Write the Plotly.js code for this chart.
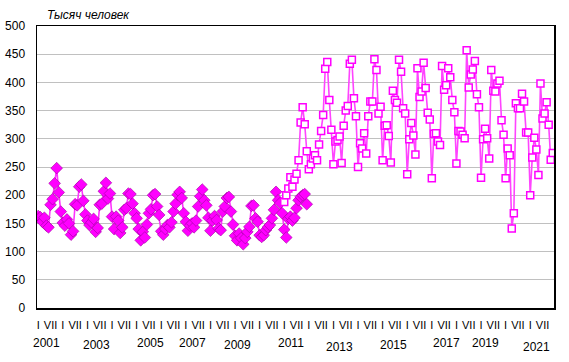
<!DOCTYPE html>
<html>
<head>
<meta charset="utf-8">
<script src="https://cdn.plot.ly/plotly-3.0.1.min.js"></script>
<style>html,body{margin:0;padding:0;background:#fff}#chart{width:569px;height:362px}</style>
</head>
<body>
<div id="chart"></div>
<script>
// Monthly values, thousand persons
// Old methodology (diamonds): Jan 2001 - Dec 2011
var oldSeries = [
  163,161,153,160,146,143,183,193,221,248,205,171,   // 2001
  151,146,157,150,130,136,184,182,215,219,190,166,   // 2002
  155,147,152,158,135,142,183,185,207,222,194,203,   // 2003
  162,140,162,155,133,143,174,177,203,202,185,168,   // 2004
  159,140,120,135,125,148,168,175,200,202,180,165,   // 2005
  136,130,140,147,143,152,171,185,201,206,195,168,   // 2006
  153,137,146,150,143,155,180,198,210,191,182,160,   // 2007
  137,155,163,156,141,138,171,180,195,197,171,148,   // 2008
  128,120,132,124,113,124,135,144,181,182,159,153,   // 2009
  129,126,129,138,143,147,159,174,206,191,186,168,   // 2010
  139,125,158,162,155,160,177,191,197,200,202,184    // 2011
];
// New methodology (squares): Jan 2011 - Dec 2021
var newSeries = [
  188,200,212,232,215,228,238,262,329,356,326,278,   // 2011
  246,255,265,271,262,290,314,342,424,436,369,316,   // 2012
  255,295,298,304,257,323,350,358,433,440,372,340,   // 2013
  250,292,283,310,274,340,366,366,441,422,345,357,   // 2014
  262,323,324,305,258,385,369,364,440,419,354,345,   // 2015
  237,299,328,306,272,425,374,384,435,390,346,334,   // 2016
  230,309,310,295,289,429,387,395,425,409,369,347,   // 2017
  256,314,313,307,301,457,391,414,423,438,379,356,   // 2018
  231,299,318,301,265,422,385,384,398,403,333,307,   // 2019
  230,283,271,141,168,363,354,354,380,366,311,311,   // 2020
  200,267,302,281,236,398,336,345,365,325,263,275    // 2021
];
var firstYear = 2001;
var lastYear = 2021;
var newStartYear = 2011;
var monthLabels = ['I', 'VII'];
var yearLabels = ['2001','2003','2005','2007','2009','2011','2013','2015','2017','2019','2021'];
var yTicks = [0,50,100,150,200,250,300,350,400,450,500];
var unitLabel = 'Тысяч человек';

// layout-only positions of the hand-placed year captions (paper coords)
var yearPos = [
  [0.019,-0.124],[0.1155,-0.131],[0.220,-0.124],[0.301,-0.124],[0.388,-0.131],
  [0.492,-0.124],[0.586,-0.137],[0.689,-0.131],[0.7925,-0.124],[0.868,-0.124],[0.9665,-0.137]
];

var oldX = oldSeries.map(function(v,i){return i;});
var offset = (newStartYear - firstYear) * 12;
var newX = newSeries.map(function(v,i){return i + offset;});

var nMonths = (lastYear - firstYear + 1) * 12;
var tickvals = [], ticktext = [];
for (var m = 0; m < nMonths; m += 6) { tickvals.push(m); ticktext.push(monthLabels[(m/6)%2]); }

var font = 'Arial, "Liberation Sans", sans-serif';

var traces = [
  {
    x: oldX, y: oldSeries, type: 'scatter', mode: 'lines+markers',
    line: {color: '#ff33ff', width: 1.6},
    marker: {symbol: 'diamond', size: 9, color: '#ff00ff', line: {color: '#a000a0', width: 0.6}},
    hoverinfo: 'skip'
  },
  {
    x: newX, y: newSeries, type: 'scatter', mode: 'lines+markers',
    line: {color: '#ff44ff', width: 1.6},
    marker: {symbol: 'square', size: 7, color: '#ffffff', line: {color: '#ff00ff', width: 1.5}},
    hoverinfo: 'skip'
  }
];

var annotations = yearLabels.map(function(t,i){
  return {text: t, xref: 'paper', yref: 'paper', x: yearPos[i][0], y: yearPos[i][1],
          xanchor: 'center', yanchor: 'middle', showarrow: false,
          font: {family: font, size: 12, color: '#000'}};
});
annotations.push({text: '<i>' + unitLabel + '</i>', xref: 'paper', yref: 'paper',
  x: 0.0155, y: 1.039, xanchor: 'left', yanchor: 'middle', showarrow: false,
  font: {family: font, size: 12, color: '#000'}});

var layout = {
  width: 569, height: 362,
  margin: {l: 37, r: 15, t: 26, b: 54},
  paper_bgcolor: '#fff', plot_bgcolor: '#fff',
  showlegend: false,
  font: {family: font, color: '#000'},
  xaxis: {
    range: [-0.6, nMonths - 0.4], tickmode: 'array', tickvals: tickvals, ticktext: ticktext,
    showgrid: false, zeroline: false, showline: true, linecolor: '#000', linewidth: 1.5, mirror: true,
    ticks: '', tickfont: {family: font, size: 11, color: '#000'}, tickangle: 0, ticklabelstandoff: 6
  },
  yaxis: {
    range: [0, 500], tickmode: 'array', tickvals: yTicks,
    showgrid: true, gridcolor: '#c0c0c0', gridwidth: 1, zeroline: false,
    showline: true, linecolor: '#000', linewidth: 1.5, mirror: true,
    ticks: '', tickfont: {family: font, size: 12, color: '#000'}, ticklabelstandoff: 8
  },
  annotations: annotations
};

Plotly.newPlot('chart', traces, layout, {displayModeBar: false, staticPlot: true});
</script>
</body>
</html>
